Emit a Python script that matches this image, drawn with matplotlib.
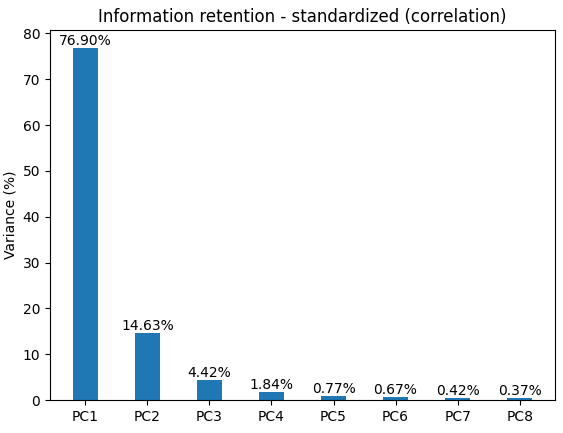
import matplotlib
matplotlib.use("Agg")
import matplotlib.pyplot as plt

labels = ["PC1", "PC2", "PC3", "PC4", "PC5", "PC6", "PC7", "PC8"]
values = [76.90, 14.63, 4.42, 1.84, 0.77, 0.67, 0.42, 0.37]

fig = plt.figure(figsize=(5.63, 4.33), dpi=100)
ax = fig.add_axes([50/563, 1-400/433, 505/563, 370/433])
bars = ax.bar(labels, values, width=0.4, color="#1f77b4")
for b, v in zip(bars, values):
    ax.text(b.get_x() + b.get_width()/2, v, f"{v:.2f}%", ha="center", va="bottom", fontsize=10)
ax.set_ylabel("Variance (%)")
ax.set_title("Information retention - standardized (correlation)")
ax.set_ylim(0, 80.75)
fig.savefig("out.png", dpi=100)
